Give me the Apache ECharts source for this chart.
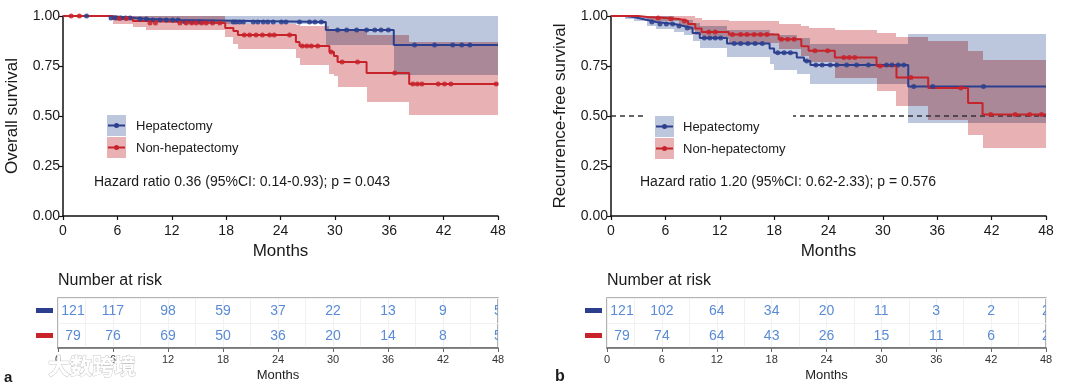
<!DOCTYPE html>
<html><head><meta charset="utf-8">
<script src="https://cdn.jsdelivr.net/npm/echarts@6/dist/echarts.min.js"></script>
<style>html,body{margin:0;padding:0;background:#fff}#c{width:1080px;height:388px}</style>
</head><body><div id="c"></div>
<script>
// ---------- DATA ----------
const months = [0,6,12,18,24,30,36,42,48];
const groups = ['Hepatectomy','Non-hepatectomy'];

// Overall survival (panel a) : [time, survival]
const osHepSteps = [[0,1],[5.1,0.99],[8,0.985],[9.5,0.98],[13,0.97],[29,0.93],[36.5,0.855],[48,0.855]];
const osNonSteps = [[0,1],[5.5,0.987],[7.7,0.975],[9.2,0.965],[17.9,0.94],[18.8,0.925],[19.3,0.905],[25.7,0.87],[26.1,0.85],[29.4,0.82],[29.9,0.80],[30.3,0.77],[33.5,0.715],[38.2,0.66],[48,0.66]];
const osHepCensor = [2.6,5.3,5.8,6.4,6.9,7.4,8.5,9.2,9.9,10.7,11.4,12.1,12.7,13.5,14.2,15.1,16.5,18.8,19.1,19.5,19.9,21,21.5,22.1,22.6,23.2,24.1,24.6,26.1,27.2,27.8,28.5,30.3,31.3,32.4,33.5,34.4,35.1,35.9,38.8,41,43,44,44.9];
const osNonCensor = [0.9,1.8,6.2,7,9.6,10.2,12.9,13.6,14.2,14.7,15.3,15.8,16.5,17.3,20,20.6,21.3,22,22.8,23.3,25,26.4,26.9,27.4,28.1,29.6,30.8,32.5,36.6,38.6,39.1,39.6,41.4,42.1,42.8,47.8];
// CI : [start time, lower, upper]
const osHepCI = [[0,1,1],[5.1,0.98,1],[9.5,0.97,1],[13,0.96,1],[29,0.857,1],[36.5,0.705,1]];
const osNonCI = [[0,1,1],[5.5,0.96,1],[7.7,0.945,1],[9.2,0.928,1],[17.9,0.895,0.975],[18.8,0.862,0.965],[19.3,0.837,0.96],[25.7,0.79,0.955],[26.1,0.755,0.95],[29.4,0.71,0.935],[29.9,0.70,0.93],[30.3,0.643,0.923],[33.5,0.572,0.905],[38.2,0.505,0.87]];

// Recurrence-free survival (panel b)
const rfsHepSteps = [[0,1],[1.5,0.995],[2.5,0.99],[3,0.98],[4,0.97],[5,0.96],[7,0.95],[8,0.94],[9,0.915],[9.8,0.89],[12.8,0.862],[17.5,0.837],[18,0.816],[20.5,0.793],[21.3,0.775],[22,0.755],[32.8,0.647],[48,0.647]];
const rfsNonSteps = [[0,1],[3,0.995],[4,0.99],[6,0.985],[7.5,0.975],[8.5,0.96],[9.3,0.937],[10,0.92],[13,0.907],[18.5,0.884],[21,0.849],[21.8,0.826],[24.7,0.793],[29.3,0.75],[31.5,0.693],[35,0.64],[39.4,0.565],[41,0.508],[48,0.508]];
const rfsHepCensor = [4.5,5.4,6.1,6.8,7.5,8.4,10.3,10.9,11.5,12.1,13.6,14.3,15.1,15.9,16.7,18.4,19.1,19.8,21.6,22.6,23.3,24.2,24.9,26,27.1,28.4,30.4,31,31.7,32.3,33.4,35.5,41.1];
const rfsNonCensor = [5.2,6.6,8.1,10.8,11.5,13.4,14.3,15,15.8,16.5,17.2,18.8,19.5,20.2,22.5,23.9,25.7,26.3,26.9,29.7,33.1,38.6,41.9,44.6,46.2,47.5];
const rfsHepCI = [[0,1,1],[1.5,0.985,1],[2.5,0.975,1],[4,0.95,1],[5,0.935,1],[7,0.92,0.985],[8,0.905,0.98],[9,0.875,0.965],[9.8,0.84,0.95],[12.8,0.795,0.93],[17.5,0.76,0.915],[18,0.73,0.905],[20.5,0.71,0.89],[22,0.66,0.86],[32.8,0.465,0.91]];
const rfsNonCI = [[0,1,1],[4,0.975,1],[7.5,0.95,1],[8.5,0.93,1],[9.3,0.905,0.99],[10,0.885,0.98],[13,0.865,0.975],[18.5,0.835,0.96],[21,0.8,0.95],[21.8,0.77,0.94],[24.7,0.69,0.93],[29.3,0.625,0.915],[31.5,0.55,0.893],[35,0.48,0.875],[39.4,0.405,0.825],[41,0.34,0.78]];

// Number at risk
const osRiskHep = [121,117,98,59,37,22,13,9,5];
const osRiskNon = [79,76,69,50,36,20,14,8,5];
const rfsRiskHep = [121,102,64,34,20,11,3,2,2];
const rfsRiskNon = [79,74,64,43,26,15,11,6,2];

const osHR = 'Hazard ratio 0.36 (95%CI: 0.14-0.93); p = 0.043';
const rfsHR = 'Hazard ratio 1.20 (95%CI: 0.62-2.33); p = 0.576';

// ---------- STYLE ----------
const FONT = "'Liberation Sans', Arial, sans-serif";
const BLUE = '#2c3f8e', RED = '#c8232b';
const BLUE_BAND = '#bcc6dc', RED_BAND = '#e8b2b4', MIX_BAND = '#aa8898';
const RISK_TXT = '#5a8bd6';
const TMAX = 48;

function stepAt(steps, t){ let s = steps[0][1]; for (const p of steps){ if (p[0] <= t) s = p[1]; } return s; }
function ciAt(ci, t){ let c = ci[0]; for (const p of ci){ if (p[0] <= t) c = p; } return c; }
function censorPts(steps, times){ return times.map(t => [t, stepAt(steps, t)]); }

// one band (or the overlap of two bands) drawn as pixel-snapped rectangles
function bandSeries(ciList, color, xi, z){
  const bps = Array.from(new Set(ciList.flatMap(ci => ci.map(p => p[0])))).sort((a,b)=>a-b);
  bps.push(TMAX);
  return {
    type:'custom', xAxisIndex:xi, yAxisIndex:xi, z:z, silent:true, data:[0],
    renderItem:function(params, api){
      const kids = [];
      for (let k=0;k<bps.length-1;k++){
        const t0 = bps[k], t1 = bps[k+1];
        let lo = -Infinity, hi = Infinity;
        ciList.forEach(ci => { const c = ciAt(ci, t0); lo = Math.max(lo, c[1]); hi = Math.min(hi, c[2]); });
        if (hi <= lo) continue;
        const a = api.coord([t0, hi]), b = api.coord([t1, lo]);
        const x0 = Math.round(a[0]), x1 = Math.round(b[0]), y0 = Math.round(a[1]), y1 = Math.round(b[1]);
        if (x1 <= x0 || y1 <= y0) continue;
        kids.push({type:'rect', shape:{x:x0, y:y0, width:x1-x0, height:y1-y0}, style:{fill:color}});
      }
      return {type:'group', children:kids};
    }
  };
}
function lineSeries(name, steps, color, xi){
  return {name, type:'line', xAxisIndex:xi, yAxisIndex:xi, step:'end', data:steps, symbol:'none', z:5,
    lineStyle:{color, width:2}, itemStyle:{color}, silent:true};
}
function censorSeries(steps, times, color, xi){
  return {type:'scatter', xAxisIndex:xi, yAxisIndex:xi, data:censorPts(steps,times), symbol:'circle', symbolSize:5, z:6,
    itemStyle:{color, opacity:0.85}, silent:true};
}
function riskSeries(vals, row, xi){
  return {type:'custom', xAxisIndex:xi, yAxisIndex:xi, clip:true, silent:true, z:5,
    data: vals.map((v,i)=>[months[i], row, v]),
    renderItem:function(params, api){
      const p = api.coord([api.value(0), api.value(1)]);
      const dx = params.dataIndex === 0 ? 15 : 0;
      return {type:'text', x:p[0]+dx, y:p[1]+1, style:{text:String(api.value(2)), fill:RISK_TXT, font:'14px '+FONT, align:'center', verticalAlign:'middle', textAlign:'center', textVerticalAlign:'middle'}};
    }};
}

const mainX = (gi) => ({type:'value', gridIndex:gi, min:0, max:TMAX, interval:6,
  name:'Months', nameLocation:'middle', nameGap:23, nameTextStyle:{fontSize:17, color:'#1a1a1a', fontFamily:FONT},
  axisLine:{show:true, onZero:false, lineStyle:{color:'#111', width:1.5}}, axisTick:{show:true, length:4, lineStyle:{color:'#111', width:1.2}},
  axisLabel:{fontSize:14, color:'#1a1a1a', margin:8, fontFamily:FONT}, splitLine:{show:false}});
const mainY = (gi, name) => ({type:'value', gridIndex:gi, min:0, max:1, interval:0.25,
  name, nameLocation:'middle', nameGap:42, nameTextStyle:{fontSize:17, color:'#1a1a1a', fontFamily:FONT},
  axisLine:{show:true, lineStyle:{color:'#111', width:1.5}}, axisTick:{show:true, length:4, lineStyle:{color:'#111', width:1.2}},
  axisLabel:{fontSize:14, color:'#1a1a1a', margin:3, fontFamily:FONT, formatter:v=>v.toFixed(2)}, splitLine:{show:false}});
const riskX = (gi) => ({type:'value', gridIndex:gi, min:0, max:TMAX, interval:6,
  name:'Months', nameLocation:'middle', nameGap:21, nameTextStyle:{fontSize:13, color:'#222', fontFamily:FONT},
  axisLine:{show:true, onZero:false, lineStyle:{color:'#666', width:1.5}}, axisTick:{show:true, length:4, lineStyle:{color:'#666'}},
  axisLabel:{fontSize:11, color:'#333', margin:6, fontFamily:FONT},
  splitLine:{show:true, lineStyle:{color:'#f1f1f1', width:1}},
  minorTick:{show:false, splitNumber:2}, minorSplitLine:{show:true, lineStyle:{color:'#f1f1f1', width:1}}});
const riskY = (gi) => ({type:'category', gridIndex:gi, data:[groups[1], groups[0]],
  axisLine:{show:false}, axisTick:{show:false},
  splitLine:{show:true, lineStyle:{color:'#f1f1f1'}},
  axisLabel:{margin:5, formatter:v => v===groups[0] ? '{h| }' : '{n| }',
    rich:{h:{width:17, height:5, lineHeight:5, fontSize:1, backgroundColor:BLUE},
          n:{width:17, height:5, lineHeight:5, fontSize:1, backgroundColor:RED}}}});

const txt = (x,y,text,size,extra) => Object.assign({type:'text', x, y, z:100, style:Object.assign({text, font:size+'px '+FONT, fill:'#1a1a1a', verticalAlign:'middle', textVerticalAlign:'middle'}, extra||{})});
function legendG(x0, y0, tx){
  return [
    {type:'rect', z:100, shape:{x:x0, y:y0, width:19, height:21}, style:{fill:BLUE_BAND}},
    {type:'rect', z:100, shape:{x:x0, y:y0+22, width:19, height:21}, style:{fill:RED_BAND}},
    {type:'line', z:101, shape:{x1:x0+1, y1:y0+10.5, x2:x0+18, y2:y0+10.5}, style:{stroke:BLUE, lineWidth:2}},
    {type:'line', z:101, shape:{x1:x0+1, y1:y0+32.5, x2:x0+18, y2:y0+32.5}, style:{stroke:RED, lineWidth:2}},
    {type:'circle', z:102, shape:{cx:x0+9.5, cy:y0+10.5, r:2.5}, style:{fill:BLUE}},
    {type:'circle', z:102, shape:{cx:x0+9.5, cy:y0+32.5, r:2.5}, style:{fill:RED}},
    txt(tx, y0+11, groups[0], 13),
    txt(tx, y0+33, groups[1], 13)
  ];
}

const chart = echarts.init(document.getElementById('c'), null, {renderer:'canvas'});
chart.setOption({
  animation:false,
  backgroundColor:'#fff',
  textStyle:{fontFamily:FONT},
  grid:[
    {left:63, right:582, top:16, height:200},
    {left:611, right:34, top:16, height:200},
    {left:58, right:582, top:298, height:50, show:true, borderColor:'#999', borderWidth:1.5, backgroundColor:'transparent'},
    {left:607, right:34, top:298, height:50, show:true, borderColor:'#999', borderWidth:1.5, backgroundColor:'transparent'}
  ],
  xAxis:[mainX(0), mainX(1), riskX(2), riskX(3)],
  yAxis:[mainY(0,'Overall survival'), mainY(1,'Recurrence-free survival'), riskY(2), riskY(3)],
  title:[
    {text:'Number at risk', left:58, top:273, textStyle:{fontSize:16, fontWeight:'normal', color:'#1a1a1a', fontFamily:FONT}, padding:0},
    {text:'Number at risk', left:607, top:273, textStyle:{fontSize:16, fontWeight:'normal', color:'#1a1a1a', fontFamily:FONT}, padding:0}
  ],
  series:[
    bandSeries([osHepCI], BLUE_BAND, 0, 1),
    bandSeries([osNonCI], RED_BAND, 0, 2),
    bandSeries([osHepCI, osNonCI], MIX_BAND, 0, 3),
    lineSeries(groups[0], osHepSteps, BLUE, 0),
    lineSeries(groups[1], osNonSteps, RED, 0),
    censorSeries(osHepSteps, osHepCensor, BLUE, 0),
    censorSeries(osNonSteps, osNonCensor, RED, 0),

    bandSeries([rfsHepCI], BLUE_BAND, 1, 1),
    bandSeries([rfsNonCI], RED_BAND, 1, 2),
    bandSeries([rfsHepCI, rfsNonCI], MIX_BAND, 1, 3),
    Object.assign(lineSeries(groups[0], rfsHepSteps, BLUE, 1), {
      markLine:{silent:true, symbol:'none', label:{show:false}, data:[{yAxis:0.5}], z:4,
        lineStyle:{type:[5,4], color:'#333', width:1.5}}}),
    lineSeries(groups[1], rfsNonSteps, RED, 1),
    censorSeries(rfsHepSteps, rfsHepCensor, BLUE, 1),
    censorSeries(rfsNonSteps, rfsNonCensor, RED, 1),

    riskSeries(osRiskHep, groups[0], 2),
    riskSeries(osRiskNon, groups[1], 2),
    riskSeries(rfsRiskHep, groups[0], 3),
    riskSeries(rfsRiskNon, groups[1], 3)
  ],
  graphic:[
    {type:'rect', z:99, shape:{x:645, y:109, width:148, height:54}, style:{fill:'#fff'}},
    ...legendG(107, 115, 136),
    ...legendG(655, 116, 683),
    txt(94, 182, osHR, 14),
    txt(640, 182, rfsHR, 14),
    txt(4, 378, 'a', 15, {font:'bold 15px '+FONT}),
    txt(555, 377, 'b', 16, {font:'bold 16px '+FONT}),
    txt(48, 366, '大数跨境', 22, {font:"bold 22px 'Noto Sans CJK SC'", fill:'#ffffff', stroke:'#c8c8c8', lineWidth:1})
  ]
});
</script></body></html>
